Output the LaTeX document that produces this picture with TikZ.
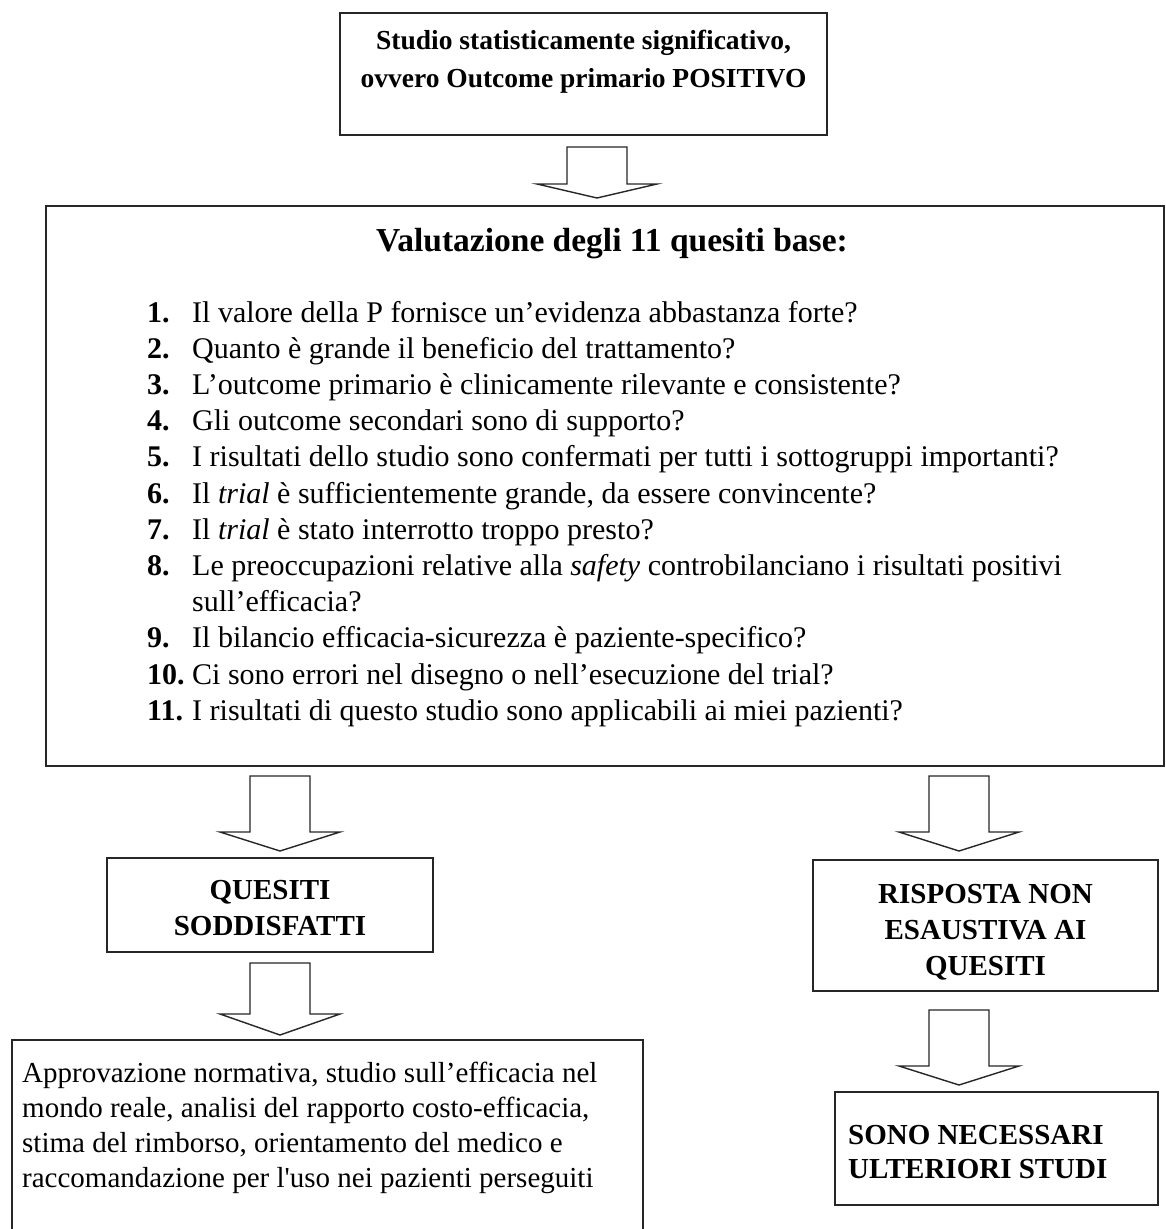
\documentclass[tikz,border=0pt]{standalone}
\usepackage{fontspec}
\setmainfont{Liberation Serif}
\usetikzlibrary{calc}

% hollow block arrow pointing down: top centre, tip, head length
\newcommand{\blockdown}[3]{%
  \draw[arrowline] ($(#1)+(-30,0)$) -- ($(#1)+(30,0)$) -- ($(#2)+(30,-#3)$)
    -- ($(#2)+(60,-#3)$) -- (#2) -- ($(#2)+(-60,-#3)$) -- ($(#2)+(-30,-#3)$) -- cycle;}
% straight typewriter-style apostrophe
\newcommand{\straightquote}{{\addfontfeature{Ligatures=TeXOff}'}}

\begin{document}
\begin{tikzpicture}[x=1pt,y=-1pt,
  box/.style={draw=black!85, line width=1.8pt, fill=none},
  arrowline/.style={draw=black!85, line width=1.4pt, line join=miter, fill=white},
  boldtxt/.style={inner sep=0, font=\fontsize{29}{34}\selectfont\bfseries},
  headtxt/.style={inner sep=0, anchor=base, font=\fontsize{27.5}{32}\selectfont\bfseries},
  titletxt/.style={inner sep=0, anchor=base, font=\fontsize{33.5}{40}\selectfont\bfseries},
  num/.style={anchor=base west, inner sep=0, font=\fontsize{30}{35}\selectfont\bfseries},
  item/.style={anchor=base west, inner sep=0, font=\fontsize{30}{35}\selectfont},
  body/.style={anchor=base west, inner sep=0, font=\fontsize{29}{34}\selectfont},
]
\useasboundingbox (0,0) rectangle (1166,1229);
\fill[white] (0,0) rectangle (1166,1229);
\clip (0,0) rectangle (1166,1229);

% ---- boxes ----
\draw[box] (340,13) rectangle (827,135);
\node[inner sep=0] (topbox) at (583.5,74) {};
\draw[box] (46,206) rectangle (1164,766);
\node[inner sep=0] (mainbox) at (605,486) {};
\draw[box] (107,858) rectangle (433,952);
\node[inner sep=0] (qbox) at (270,905) {};
\draw[box] (813,860) rectangle (1158,991);
\node[inner sep=0] (rbox) at (985.5,925) {};
\draw[box] (12,1040) rectangle (643,1260);
\node[inner sep=0] (abox) at (327,1150) {};
\draw[box] (835,1092) rectangle (1158,1205);
\node[inner sep=0] (sbox) at (996.5,1148) {};

% ---- top box text ----
\node[headtxt] (t1) at (583.5,49) {Studio statisticamente significativo,};
\node[headtxt] (t2) at (583.5,87) {ovvero Outcome primario POSITIVO};

% ---- main box ----
\node[titletxt] (title) at (612,251) {Valutazione degli 11 quesiti base:};

\node[num] (n1)  at (147,322)   {1.};
\node[item] (q1) at (192,322)   {Il valore della P fornisce un’evidenza abbastanza forte?};
\node[num] (n2)  at (147,358.2) {2.};
\node[item] (q2) at (192,358.2) {Quanto è grande il beneficio del trattamento?};
\node[num] (n3)  at (147,394.4) {3.};
\node[item] (q3) at (192,394.4) {L’outcome primario è clinicamente rilevante e consistente?};
\node[num] (n4)  at (147,430.6) {4.};
\node[item] (q4) at (192,430.6) {Gli outcome secondari sono di supporto?};
\node[num] (n5)  at (147,466.8) {5.};
\node[item] (q5) at (192,466.8) {I risultati dello studio sono confermati per tutti i sottogruppi importanti?};
\node[num] (n6)  at (147,503)   {6.};
\node[item] (q6) at (192,503)   {Il \textit{trial} è sufficientemente grande, da essere convincente?};
\node[num] (n7)  at (147,539.2) {7.};
\node[item] (q7) at (192,539.2) {Il \textit{trial} è stato interrotto troppo presto?};
\node[num] (n8)  at (147,575.4) {8.};
\node[item] (q8) at (192,575.4) {Le preoccupazioni relative alla \textit{safety} controbilanciano i risultati positivi};
\node[item] (q8b) at (192,611.6) {sull’efficacia?};
\node[num] (n9)  at (147,647.8) {9.};
\node[item] (q9) at (192,647.8) {Il bilancio efficacia-sicurezza è paziente-specifico?};
\node[num] (n10) at (147,684)   {10.};
\node[item] (q10) at (192,684)  {Ci sono errori nel disegno o nell’esecuzione del trial?};
\node[num] (n11) at (147,720.2) {11.};
\node[item] (q11) at (192,720.2) {I risultati di questo studio sono applicabili ai miei pazienti?};

% ---- outcome boxes text ----
\node[boldtxt, anchor=base] (qt1) at (270,899) {QUESITI};
\node[boldtxt, anchor=base] (qt2) at (270,935) {SODDISFATTI};

\node[boldtxt, anchor=base] (rt1) at (985.5,903) {RISPOSTA NON};
\node[boldtxt, anchor=base] (rt2) at (985.5,939) {ESAUSTIVA AI};
\node[boldtxt, anchor=base] (rt3) at (985.5,975) {QUESITI};

\node[boldtxt, anchor=base west] (st1) at (848,1144) {SONO NECESSARI};
\node[boldtxt, anchor=base west] (st2) at (848,1178) {ULTERIORI STUDI};

\node[body] (a1) at (22,1082) {Approvazione normativa, studio sull’efficacia nel};
\node[body] (a2) at (22,1117) {mondo reale, analisi del rapporto costo-efficacia,};
\node[body] (a3) at (22,1152) {stima del rimborso, orientamento del medico e};
\node[body] (a4) at (22,1187) {raccomandazione per l\straightquote uso nei pazienti perseguiti};

% ---- block arrows ----
\coordinate (ar1s) at (597,147);  \coordinate (ar1e) at (597,198);
\coordinate (ar2s) at (280,776);  \coordinate (ar2e) at (280,851);
\coordinate (ar3s) at (280,963);  \coordinate (ar3e) at (280,1035);
\coordinate (ar4s) at (959,776);  \coordinate (ar4e) at (959,851);
\coordinate (ar5s) at (959,1010); \coordinate (ar5e) at (959,1085);
\blockdown{ar1s}{ar1e}{14}
\blockdown{ar2s}{ar2e}{19}
\blockdown{ar3s}{ar3e}{21}
\blockdown{ar4s}{ar4e}{19}
\blockdown{ar5s}{ar5e}{19}
\end{tikzpicture}
\end{document}
